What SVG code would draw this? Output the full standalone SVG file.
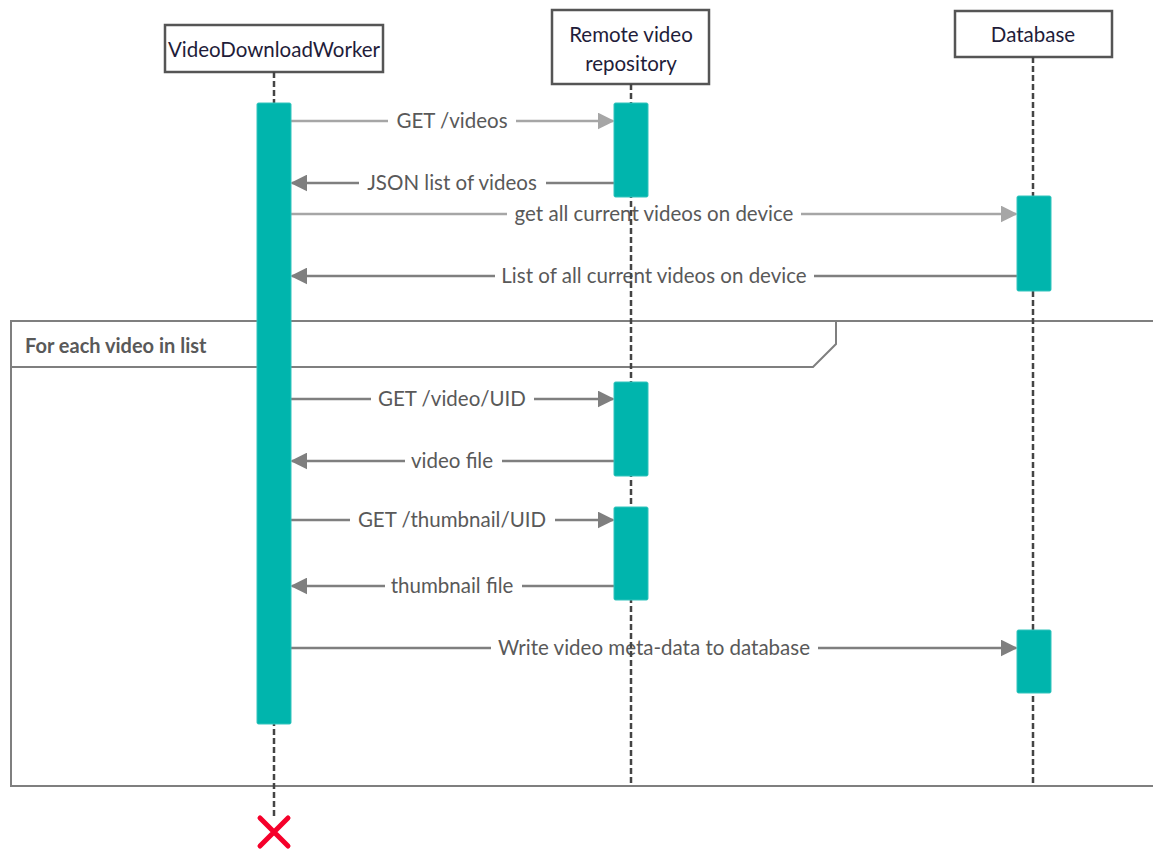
<svg xmlns="http://www.w3.org/2000/svg" width="1153" height="852" viewBox="0 0 1153 852">
<style>
.hdr{fill:#fff;stroke:#555;stroke-width:2.5}
.ht{font-family:Lato,"Noto Sans",sans-serif;font-size:20.5px;fill:#1f1d3a;text-anchor:middle}
.life{stroke:#444;stroke-width:2.5;stroke-dasharray:6,3;fill:none}
.act{fill:#00b5ad;stroke:#33c4bd;stroke-width:1}
.msg{stroke:#7f7f7f;stroke-width:2.5;fill:none}
.msgl{stroke:#a6a6a6;stroke-width:2.5;fill:none}
.mt{font-family:Lato,"Noto Sans",sans-serif;font-size:20.5px;fill:#595959;text-anchor:middle}
.frame{stroke:#7f7f7f;stroke-width:2;fill:none}
.ft{font-family:Lato,"Noto Sans",sans-serif;font-size:20px;font-weight:bold;fill:#595959}
</style>
<defs>
<marker id="ah" viewBox="0 0 10 10" refX="9" refY="5" markerWidth="17" markerHeight="17" markerUnits="userSpaceOnUse" orient="auto">
<path d="M0,0 L10,5 L0,10 z" fill="#7f7f7f"/>
</marker>
<marker id="ahl" viewBox="0 0 10 10" refX="9" refY="5" markerWidth="17" markerHeight="17" markerUnits="userSpaceOnUse" orient="auto">
<path d="M0,0 L10,5 L0,10 z" fill="#a6a6a6"/>
</marker>
</defs>
<rect width="1153" height="852" fill="#fff"/>

<g id="frame">
<path class="frame" d="M1153,321 L11,321 L11,786 L1153,786"/>
<path class="frame" d="M11,367 L813,367 L836,344 L836,321"/>
<text class="ft" x="25" y="353">For each video in list</text>
</g>

<g id="connectors">
<g>
<line class="msgl" x1="291" y1="121" x2="388" y2="121"/>
<line class="msgl" x1="516" y1="121" x2="613" y2="121" marker-end="url(#ahl)"/>
<text class="mt" x="452" y="128">GET /videos</text>
</g>
<g>
<line class="msg" x1="614" y1="183" x2="546" y2="183"/>
<line class="msg" x1="359" y1="183" x2="292" y2="183" marker-end="url(#ah)"/>
<text class="mt" x="452" y="190">JSON list of videos</text>
</g>
<g>
<line class="msgl" x1="291" y1="214" x2="507" y2="214"/>
<line class="msgl" x1="801" y1="214" x2="1016" y2="214" marker-end="url(#ahl)"/>
<text class="mt" x="654" y="221">get all current videos on device</text>
</g>
<g>
<line class="msg" x1="1017" y1="276" x2="814" y2="276"/>
<line class="msg" x1="495" y1="276" x2="292" y2="276" marker-end="url(#ah)"/>
<text class="mt" x="654" y="283">List of all current videos on device</text>
</g>
<g>
<line class="msg" x1="291" y1="399" x2="371" y2="399"/>
<line class="msg" x1="534" y1="399" x2="613" y2="399" marker-end="url(#ah)"/>
<text class="mt" x="452" y="406">GET /video/UID</text>
</g>
<g>
<line class="msg" x1="614" y1="461" x2="502" y2="461"/>
<line class="msg" x1="405" y1="461" x2="292" y2="461" marker-end="url(#ah)"/>
<text class="mt" x="452" y="468">video file</text>
</g>
<g>
<line class="msg" x1="291" y1="520" x2="350" y2="520"/>
<line class="msg" x1="555" y1="520" x2="613" y2="520" marker-end="url(#ah)"/>
<text class="mt" x="452" y="527">GET /thumbnail/UID</text>
</g>
<g>
<line class="msg" x1="614" y1="586" x2="522" y2="586"/>
<line class="msg" x1="385" y1="586" x2="292" y2="586" marker-end="url(#ah)"/>
<text class="mt" x="452" y="593">thumbnail file</text>
</g>
<g>
<line class="msg" x1="291" y1="648" x2="491" y2="648"/>
<line class="msg" x1="818" y1="648" x2="1016" y2="648" marker-end="url(#ah)"/>
<text class="mt" x="654" y="655">Write video meta-data to database</text>
</g>
</g>

<g id="worker">
<rect class="hdr" x="165" y="25" width="218" height="47"/>
<text class="ht" x="274" y="57">VideoDownloadWorker</text>
<line class="life" x1="274" y1="72" x2="274" y2="818"/>
<rect class="act" x="257" y="103" width="34" height="621" rx="1.5"/>
<path d="M260,818 L288,846 M288,818 L260,846" stroke="#f5002a" stroke-width="5" stroke-linecap="round"/>
</g>

<g id="repository">
<rect class="hdr" x="552" y="10" width="157" height="74"/>
<text class="ht" x="631" y="42">Remote video</text>
<text class="ht" x="631" y="71">repository</text>
<line class="life" x1="631" y1="84" x2="631" y2="786"/>
<rect class="act" x="614" y="103" width="34" height="94" rx="1.5"/>
<rect class="act" x="614" y="382" width="34" height="94" rx="1.5"/>
<rect class="act" x="614" y="507" width="34" height="93" rx="1.5"/>
</g>

<g id="database">
<rect class="hdr" x="955" y="11" width="157" height="46"/>
<text class="ht" x="1033" y="42">Database</text>
<line class="life" x1="1033" y1="57" x2="1033" y2="786"/>
<rect class="act" x="1017" y="196" width="34" height="95" rx="1.5"/>
<rect class="act" x="1017" y="630" width="34" height="63" rx="1.5"/>
</g>
</svg>
